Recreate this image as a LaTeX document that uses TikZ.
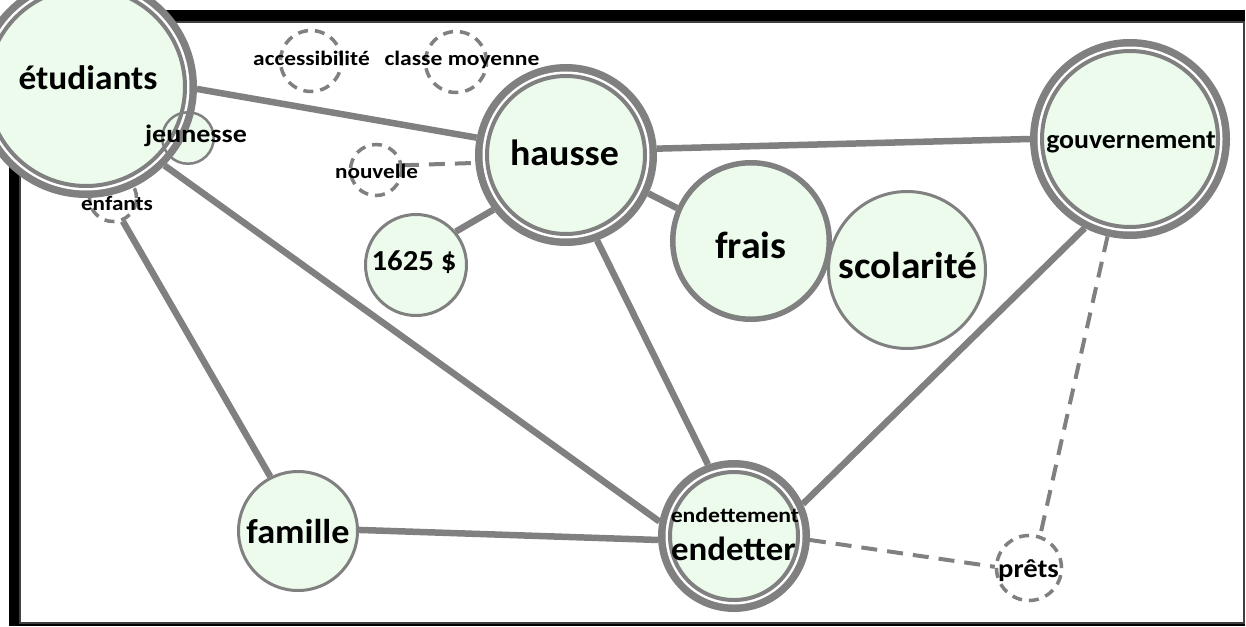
\documentclass[tikz,border=0pt]{standalone}
\usepackage{fontspec}
\setmainfont{Carlito}
\usepackage{graphicx}
\pgfdeclarelayer{frame}
\pgfdeclarelayer{edges}
\pgfsetlayers{frame,edges,main}
\definecolor{ring}{RGB}{128,128,128}
\definecolor{leaf}{RGB}{236,251,236}
\definecolor{rim}{RGB}{64,64,64}
% size, horizontal stretch, text
\newcommand\lab[3]{\fontsize{#1}{#1}\selectfont\scalebox{#2}[1]{#3}}

\begin{document}
\begin{tikzpicture}[x=1pt,y=-1pt,
  dbl/.style={circle, fill=leaf, draw=ring, line width=4pt, outer sep=12pt, inner sep=0pt,
    preaction={draw=ring, line width=24pt}, preaction={draw=white, line width=9pt}},
  single/.style={circle, fill=leaf, draw=ring, inner sep=0pt},
  fillonly/.style={circle, fill=leaf, inner sep=0pt},
  dashc/.style={circle, draw=ring, line width=3.5pt, dash pattern=on 10pt off 7pt, inner sep=0pt},
  link/.style={draw=ring, line width=6.5pt},
  dlink/.style={draw=ring, line width=4pt, dash pattern=on 16pt off 10pt},
  lbl/.style={inner sep=0pt, anchor=base, font=\bfseries, text=black}]

\useasboundingbox (0,0) rectangle (1246,626);

% page frame
\begin{pgfonlayer}{frame}
  \fill[black] (8.5,10.5) rectangle (1244.5,626);
  \fill[white] (20,22) rectangle (1244,623);
  \draw[rim, line width=1.2pt] (20,22) rectangle (1244,623);
\end{pgfonlayer}

% concepts
\node[dashc, minimum size=47pt] (enf) at (113,198) {};
\node[fillonly, minimum size=51.5pt] (jeun) at (188,138) {};
\node[dbl, minimum size=198pt] (etud) at (86,87) {};
\node[circle, draw=ring, line width=2.5pt, inner sep=0pt, minimum size=51.5pt] (jeun-rim) at (jeun.center) {};
\node[dashc, minimum size=61pt] (acc) at (311,61) {};
\node[dashc, minimum size=61pt] (cm) at (456,62) {};
\node[dashc, minimum size=51pt] (nouv) at (376,170) {};
\node[dbl, minimum size=158pt] (hausse) at (566,155) {};
\node[single, line width=3pt, minimum size=101pt] (prix) at (416,265) {};
\node[single, line width=5.5pt, minimum size=156.5pt] (frais) at (751,241) {};
\node[single, line width=3pt, minimum size=157pt] (scol) at (907,270) {};
\node[dbl, minimum size=176pt] (gouv) at (1130,139) {};
\node[single, line width=3pt, minimum size=119pt] (fam) at (298,531) {};
\node[dbl, minimum size=128pt] (endet) at (734,536) {};
\node[dashc, minimum size=65pt] (prets) at (1029,568) {};

% labels
\node[lbl] (t-etud) at (88,89) {\lab{34}{1.04}{étudiants}};
\node[lbl] (t-jeun) at (196,142) {\lab{25}{1.12}{jeunesse}};
\node[lbl] (t-enf) at (117,210) {\lab{20.5}{1.13}{enfants}};
\node[lbl] (t-acc) at (311.5,66) {\lab{20.5}{1.14}{accessibilité}};
\node[lbl] (t-cm) at (462,66) {\lab{20.5}{1.15}{classe moyenne}};
\node[lbl] (t-nouv) at (376.5,178) {\lab{20.5}{1.13}{nouvelle}};
\node[lbl] (t-hausse) at (564.5,165) {\lab{36.5}{1.04}{hausse}};
\node[lbl] (t-prix) at (414,270) {\lab{29}{1.06}{1625 \$}};
\node[lbl] (t-frais) at (751,258) {\lab{38}{1.05}{frais}};
\node[lbl] (t-scol) at (908,278) {\lab{37.5}{1.05}{scolarité}};
\node[lbl] (t-gouv) at (1131,148) {\lab{26.5}{1.05}{gouvernement}};
\node[lbl] (t-fam) at (298,543) {\lab{34.5}{1.05}{famille}};
\node[lbl] (t-endm) at (735,522) {\lab{21}{1.13}{endettement}};
\node[lbl] (t-endet) at (733.5,560) {\lab{33.5}{1.04}{endetter}};
\node[lbl] (t-prets) at (1028.5,577) {\lab{26}{1.1}{prêts}};

% connectors
\begin{pgfonlayer}{edges}
  \draw[link] (etud.-1.5) -- (hausse.169.4);
  \draw[link] (etud.-45.7) -- (endet.169);
  \draw[link] (enf.-67.4) -- (fam.117.8);
  \draw[link] (hausse.4.5) -- (gouv.180.6);
  \draw[link] (hausse.-25.5) -- (frais.156.4);
  \draw[link] (hausse.-143.1) -- (prix.40.2);
  \draw[link] (hausse.-70.4) -- (endet.110.1);
  \draw[link] (gouv.-117.6) -- (endet.25.2);
  \draw[link] (fam.1) -- (endet.183);
  \draw[dlink] (nouv.10.9) -- (hausse.185);
  \draw[dlink] (endet.-3) -- (prets.178.3);
  \draw[dlink] (gouv.-103.2) -- (prets.71.6);
\end{pgfonlayer}
\end{tikzpicture}
\end{document}
